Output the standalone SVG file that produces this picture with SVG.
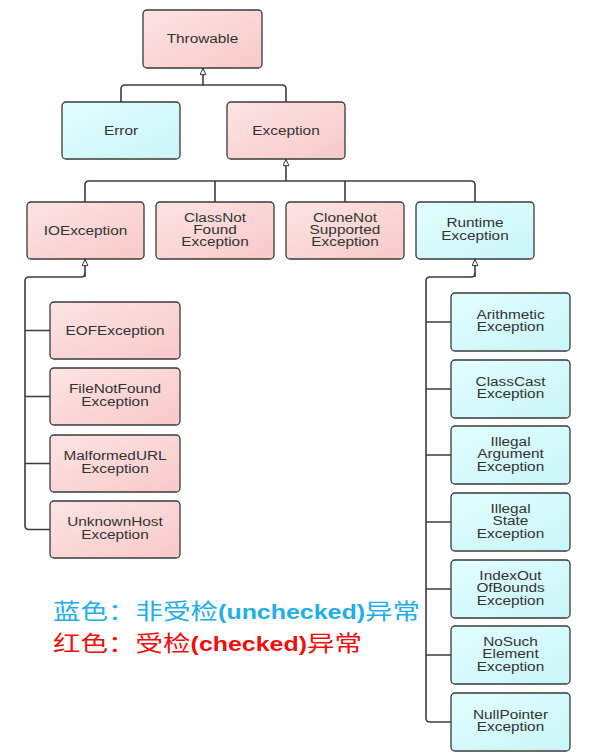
<svg xmlns="http://www.w3.org/2000/svg" width="592" height="756" viewBox="0 0 592 756">
<defs>
<linearGradient id="pink" x1="0" y1="0" x2="1" y2="1">
<stop offset="0" stop-color="#fde4e4"/><stop offset="1" stop-color="#f8c9c9"/>
</linearGradient>
<linearGradient id="cyan" x1="0" y1="0" x2="1" y2="1">
<stop offset="0" stop-color="#e2feff"/><stop offset="1" stop-color="#c9f5f8"/>
</linearGradient>
<marker id="tri" viewBox="0 0 10 10" refX="10" refY="5" markerWidth="8" markerHeight="7" markerUnits="userSpaceOnUse" orient="auto">
<path d="M0.5,0.8 L9.5,5 L0.5,9.2 z" fill="#fff" stroke="#333" stroke-width="1.4"/>
</marker>
</defs>
<style>
rect.p{fill:url(#pink);stroke:#3a3a3a;stroke-width:1.3}
rect.c{fill:url(#cyan);stroke:#3a3a3a;stroke-width:1.3}
text.t{font-family:"Liberation Sans",Arial,sans-serif;font-size:12px;fill:#333;text-anchor:middle}
#connectors path{fill:none;stroke:#3c3c3c;stroke-width:1.6}
.lg{font-family:"Noto Sans CJK SC",sans-serif;font-size:21.5px}
.lt{font-family:"Liberation Sans",Arial,sans-serif;font-size:19.5px;font-weight:bold}
</style>
<rect width="592" height="756" fill="#fff"/>
<g id="connectors">
<path d="M121,102 V89 Q121,85 125,85 H282 Q286,85 286,89 V102"/>
<path d="M203,85 V68" marker-end="url(#tri)"/>
<path d="M85,202 V185 Q85,181 89,181 H471 Q475,181 475,185 V202"/>
<path d="M215,181 V202 M345,181 V202"/>
<path d="M286,181 V159" marker-end="url(#tri)"/>
<path d="M85,273 Q85,277 81,277 H29 Q25,277 25,281 V525.5 Q25,529.5 29,529.5 H50"/>
<path d="M25,330.5 H50 M25,396.5 H50 M25,463.5 H50"/>
<path d="M85,277 V259" marker-end="url(#tri)"/>
<path d="M475,273 Q475,277 471,277 H430 Q426,277 426,281 V718 Q426,722 430,722 H451"/>
<path d="M426,322 H451 M426,389 H451 M426,455 H451 M426,522 H451 M426,589 H451 M426,655 H451"/>
<path d="M475,277 V259" marker-end="url(#tri)"/>
</g>
<g id="throwable"><rect class="p" x="143" y="10" width="119" height="58" rx="4"/><text class="t" transform="translate(202.5,43.3) scale(1.28,1)">Throwable</text></g>
<g id="error"><rect class="c" x="62" y="102" width="118" height="57" rx="4"/><text class="t" transform="translate(121,134.8) scale(1.28,1)">Error</text></g>
<g id="exception"><rect class="p" x="227" y="102" width="118" height="57" rx="4"/><text class="t" transform="translate(286,134.8) scale(1.28,1)">Exception</text></g>
<g id="ioexception"><rect class="p" x="27" y="202" width="117" height="57" rx="4"/><text class="t" transform="translate(85.5,234.8) scale(1.28,1)">IOException</text></g>
<g id="classnotfound"><rect class="p" x="156" y="202" width="118" height="57" rx="4"/><text class="t" transform="translate(215,221.5) scale(1.28,1)"><tspan x="0">ClassNot</tspan><tspan x="0" dy="12.5">Found</tspan><tspan x="0" dy="12.5">Exception</tspan></text></g>
<g id="clonenotsupported"><rect class="p" x="286" y="202" width="118" height="57" rx="4"/><text class="t" transform="translate(345,221.5) scale(1.28,1)"><tspan x="0">CloneNot</tspan><tspan x="0" dy="12.5">Supported</tspan><tspan x="0" dy="12.5">Exception</tspan></text></g>
<g id="runtime"><rect class="c" x="416" y="202" width="118" height="57" rx="4"/><text class="t" transform="translate(475,227.3) scale(1.28,1)"><tspan x="0">Runtime</tspan><tspan x="0" dy="12.5">Exception</tspan></text></g>
<g id="eof"><rect class="p" x="50" y="302" width="130" height="57" rx="4"/><text class="t" transform="translate(115,334.8) scale(1.28,1)">EOFException</text></g>
<g id="filenotfound"><rect class="p" x="50" y="368" width="130" height="57" rx="4"/><text class="t" transform="translate(115,393.3) scale(1.28,1)"><tspan x="0">FileNotFound</tspan><tspan x="0" dy="12.8">Exception</tspan></text></g>
<g id="malformedurl"><rect class="p" x="50" y="435" width="130" height="57" rx="4"/><text class="t" transform="translate(115,460.3) scale(1.28,1)"><tspan x="0">MalformedURL</tspan><tspan x="0" dy="12.8">Exception</tspan></text></g>
<g id="unknownhost"><rect class="p" x="50" y="501" width="130" height="57" rx="4"/><text class="t" transform="translate(115,526.3) scale(1.28,1)"><tspan x="0">UnknownHost</tspan><tspan x="0" dy="12.8">Exception</tspan></text></g>
<g id="arithmetic"><rect class="c" x="451" y="293" width="119" height="58" rx="4"/><text class="t" transform="translate(510.5,318.5) scale(1.28,1)"><tspan x="0">Arithmetic</tspan><tspan x="0" dy="12.8">Exception</tspan></text></g>
<g id="classcast"><rect class="c" x="451" y="360" width="119" height="58" rx="4"/><text class="t" transform="translate(510.5,385.5) scale(1.28,1)"><tspan x="0">ClassCast</tspan><tspan x="0" dy="12.8">Exception</tspan></text></g>
<g id="illegalargument"><rect class="c" x="451" y="426" width="119" height="58" rx="4"/><text class="t" transform="translate(510.5,446) scale(1.28,1)"><tspan x="0">Illegal</tspan><tspan x="0" dy="12.5">Argument</tspan><tspan x="0" dy="12.5">Exception</tspan></text></g>
<g id="illegalstate"><rect class="c" x="451" y="493" width="119" height="58" rx="4"/><text class="t" transform="translate(510.5,513) scale(1.28,1)"><tspan x="0">Illegal</tspan><tspan x="0" dy="12.5">State</tspan><tspan x="0" dy="12.5">Exception</tspan></text></g>
<g id="indexoutofbounds"><rect class="c" x="451" y="560" width="119" height="58" rx="4"/><text class="t" transform="translate(510.5,580) scale(1.28,1)"><tspan x="0">IndexOut</tspan><tspan x="0" dy="12.5">OfBounds</tspan><tspan x="0" dy="12.5">Exception</tspan></text></g>
<g id="nosuchelement"><rect class="c" x="451" y="626" width="119" height="58" rx="4"/><text class="t" transform="translate(510.5,646) scale(1.28,1)"><tspan x="0">NoSuch</tspan><tspan x="0" dy="12.5">Element</tspan><tspan x="0" dy="12.5">Exception</tspan></text></g>
<g id="nullpointer"><rect class="c" x="451" y="693" width="119" height="58" rx="4"/><text class="t" transform="translate(510.5,719.3) scale(1.28,1)"><tspan x="0">NullPointer</tspan><tspan x="0" dy="12">Exception</tspan></text></g>
<g id="legend">
<text class="lg" fill="#22aeea" transform="translate(53,619) scale(1.28,1)">蓝色：非受检<tspan class="lt">(unchecked)</tspan>异常</text>
<text class="lg" fill="#f20d0d" transform="translate(53,651) scale(1.28,1)">红色：受检<tspan class="lt">(checked)</tspan>异常</text>
</g>
</svg>
